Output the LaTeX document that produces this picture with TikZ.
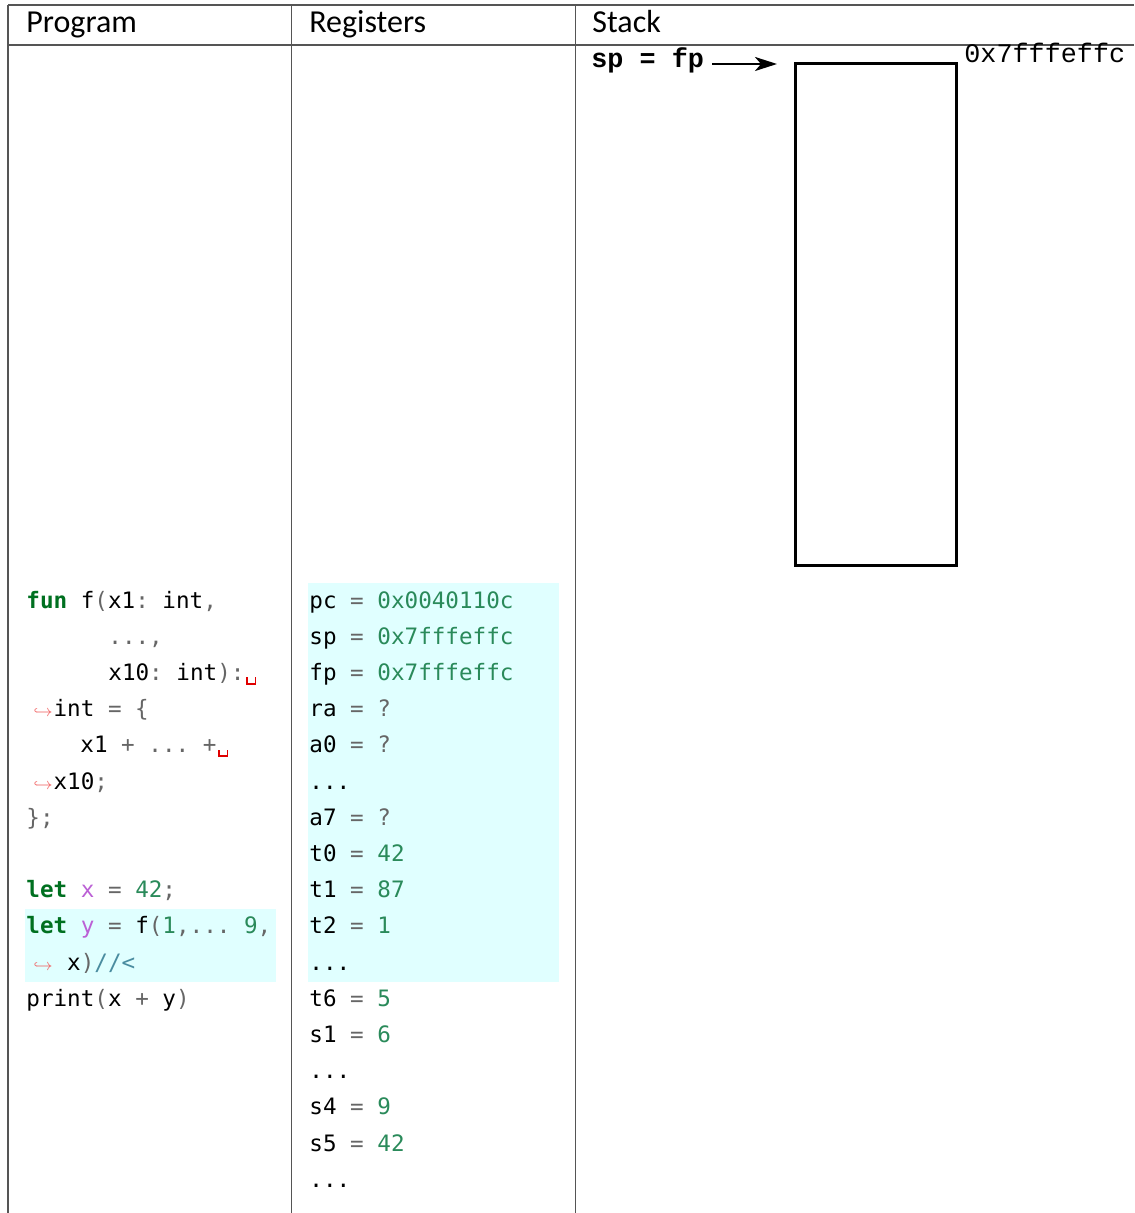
\documentclass[tikz,border=0pt]{standalone}
\usepackage{fontspec}
\setmainfont{Carlito}
\setmonofont{DejaVu Sans Mono}
\newfontfamily\stackfont{Liberation Mono}
\usetikzlibrary{arrows.meta,positioning}

\definecolor{kwgreen}{HTML}{007020}
\definecolor{numgreen}{HTML}{2A8A5A}
\definecolor{opgray}{HTML}{666666}
\definecolor{varpurple}{HTML}{BB60D5}
\definecolor{cmtteal}{HTML}{4A8CA0}
\definecolor{brkred}{HTML}{F06060}
\definecolor{vspred}{HTML}{E00000}
\definecolor{hlcyan}{HTML}{E0FFFF}
\definecolor{rulegray}{HTML}{555555}

% code colouring
\newcommand{\ckw}[1]{\textcolor{kwgreen}{\bfseries #1}}
\newcommand{\cnum}[1]{\textcolor{numgreen}{#1}}
\newcommand{\cop}[1]{\textcolor{opgray}{#1}}
\newcommand{\cvar}[1]{\textcolor{varpurple}{#1}}
\newcommand{\ccmt}[1]{\textcolor{cmtteal}{#1}}
\newcommand{\cbrk}{\makebox[13.6pt][r]{\textcolor{brkred}{\footnotesize$\hookrightarrow$}\hspace{0.5pt}}}
\newcommand{\cvsp}{\makebox[6.8pt]{\textcolor{vspred}{\rule[-2.2pt]{0.9pt}{3.8pt}\rule[-2.2pt]{3.4pt}{0.9pt}\rule[-2.2pt]{0.9pt}{3.8pt}}}}

\begin{document}
\begin{tikzpicture}[x=0.5pt,y=-0.5pt,
  rule/.style={draw=rulegray,line width=0.8pt},
  pointer/.style={-{Stealth[length=11pt,width=7pt,inset=3pt]},line width=1.3pt},
  head/.style={anchor=base west,inner sep=0pt,font=\fontsize{16}{19}\selectfont},
  code/.style={anchor=base west,inner sep=0pt,font=\ttfamily\fontsize{11.3}{13}\selectfont},
  addr/.style={anchor=base west,inner sep=0pt,font=\stackfont\fontsize{13.4}{16}\selectfont},
  frame/.style={draw,line width=1.5pt,outer sep=0pt,inner sep=0pt,
    minimum width=80.5pt,minimum height=250.5pt,anchor=north west}]
  \useasboundingbox (0,0) rectangle (1134,1213);

  % highlighted lines
  \fill[hlcyan] (25,909) rectangle (276,982);
  \fill[hlcyan] (308,583) rectangle (559,982);

  % table
  \draw[rule] (8,5) -- (1134,5);
  \draw[rule] (8,45) -- (1134,45);
  \draw[rule] (8,5) -- (8,1213);
  \draw[rule] (291.5,5) -- (291.5,1213);
  \draw[rule] (575.5,5) -- (575.5,1213);
  \node[head] (hprog) at (26,33) {Program};
  \node[head] (hreg) at (309,33) {Registers};
  \node[head] (hstack) at (592,33) {Stack};

  % program
  \node[code] (c0) at (26,608) {\ckw{fun} f\cop{(}x1\cop{:} int\cop{,}};
  \node[code] (c1) at (108,644.2) {\cop{...,}};
  \node[code] (c2) at (108,680.4) {x10\cop{:} int\cop{):}\cvsp};
  \node[code] (c3) at (26,716.6) {\cbrk int \cop{=} \cop{\{}};
  \node[code] (c4) at (80,752.8) {x1 \cop{+} \cop{...} \cop{+}\cvsp};
  \node[code] (c5) at (26,789) {\cbrk x10\cop{;}};
  \node[code] (c6) at (26,825.2) {\cop{\};}};
  \node[code] (c8) at (26,897.6) {\ckw{let} \cvar{x} \cop{=} \cnum{42}\cop{;}};
  \node[code] (c9) at (26,933.8) {\ckw{let} \cvar{y} \cop{=} f\cop{(}\cnum{1}\cop{,...} \cnum{9}\cop{,}};
  \node[code] (c10) at (26,970) {\cbrk{} x\cop{)}\ccmt{//<}};
  \node[code] (c11) at (26,1006.2) {print\cop{(}x \cop{+} y\cop{)}};

  % registers
  \node[code] (r0) at (309,608) {pc \cop{=} \cnum{0x0040110c}};
  \node[code] (r1) at (309,644.2) {sp \cop{=} \cnum{0x7fffeffc}};
  \node[code] (r2) at (309,680.4) {fp \cop{=} \cnum{0x7fffeffc}};
  \node[code] (r3) at (309,716.6) {ra \cop{=} \cop{?}};
  \node[code] (r4) at (309,752.8) {a0 \cop{=} \cop{?}};
  \node[code] (r5) at (309,789) {...};
  \node[code] (r6) at (309,825.2) {a7 \cop{=} \cop{?}};
  \node[code] (r7) at (309,861.4) {t0 \cop{=} \cnum{42}};
  \node[code] (r8) at (309,897.6) {t1 \cop{=} \cnum{87}};
  \node[code] (r9) at (309,933.8) {t2 \cop{=} \cnum{1}};
  \node[code] (r10) at (309,970) {...};
  \node[code] (r11) at (309,1006.2) {t6 \cop{=} \cnum{5}};
  \node[code] (r12) at (309,1042.4) {s1 \cop{=} \cnum{6}};
  \node[code] (r13) at (309,1078.6) {...};
  \node[code] (r14) at (309,1114.8) {s4 \cop{=} \cnum{9}};
  \node[code] (r15) at (309,1151) {s5 \cop{=} \cnum{42}};
  \node[code] (r16) at (309,1187.2) {...};

  % stack
  \node[frame] (frame) at (795,64) {};
  \node[addr] (top) at (964,63) {0x7fffeffc};
  \node[addr,inner xsep=4pt] (spfp) at (583,68) {\bfseries sp = fp};
  \coordinate (tip) at (777,64);
  \draw[pointer] (spfp.east |- tip) -- (tip);
\end{tikzpicture}
\end{document}
